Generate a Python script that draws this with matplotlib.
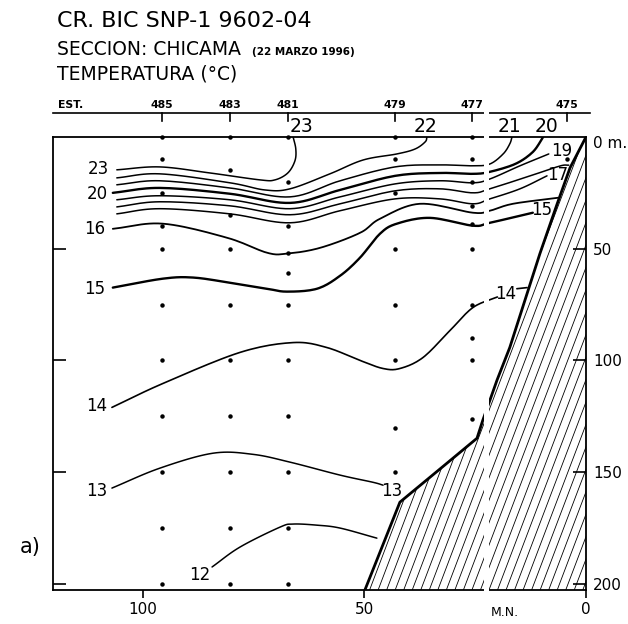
import matplotlib
matplotlib.use("Agg")
import matplotlib.pyplot as plt
import numpy as np
from matplotlib.patches import Polygon
from matplotlib.transforms import blended_transform_factory

plt.rcParams['font.family'] = ['DejaVu Sans']

# stations (distance from coast in nautical miles) and sampled depths (m)
stations = ['485', '483', '481', '479', '477', '475']
station_nm = [95.7, 80.4, 67.3, 43.1, 25.7, 4.3]
sample_depths = [
    [0, 10, 25, 40, 50, 75, 100, 125, 150, 175, 200],
    [0, 15, 35, 50, 75, 100, 125, 150, 175, 200],
    [0, 20, 40, 52, 61, 75, 100, 125, 150, 175, 200],
    [0, 10, 25, 50, 75, 100, 130, 150],
    [0, 10, 20, 31, 39, 50, 75, 90, 100, 126],
    [10],
]

# sea floor profile
shelf_nm = [0, 3.6, 6.5, 10.4, 13.3, 17.2, 20.1, 21.7, 23.3, 24.6, 31.4, 42.0, 49.9]
shelf_depth = [0, 13.8, 29.9, 52.2, 70.1, 94.2, 108.9, 117.9, 126.8, 134.8, 146.0, 163.4, 202.7]

# isotherms as (nm, depth) read from the section
t23 = [(105.9, 14.7), (96.2, 13.4), (84.9, 16.1), (73.6, 19.2), (70.2, 19.2),
       (67.3, 16.1), (65.7, 10.7), (65.5, 5.4), (66.1, 0)]
t22 = [(105.9, 18.3), (96.2, 16.5), (80.4, 20.5), (72.5, 23.7), (66.8, 23.2),
       (57.8, 16.5), (50.3, 10.3), (42.7, 7.6), (38.6, 5.4), (36.3, 2.2), (35.9, 0)]
t21 = [(105.9, 21.4), (96.2, 19.6), (80.4, 22.8), (66.8, 26.8), (55.5, 19.6),
       (43.1, 13.4), (33.0, 12.5), (25.5, 12.9), (21.7, 12.1), (18.7, 7.6),
       (17.2, 3.1), (16.7, 0)]
t20 = [(106.8, 25.0), (96.2, 22.8), (80.4, 25.4), (66.8, 29.5), (55.5, 23.7),
       (43.1, 17.4), (33.0, 16.1), (25.5, 16.5), (21.7, 15.6), (16.0, 12.1),
       (12.2, 7.1), (10.2, 1.8), (9.7, 0)]
t19 = [(105.9, 28.1), (96.2, 26.3), (80.4, 28.1), (66.8, 32.1), (55.5, 26.8),
       (43.1, 21.0), (33.0, 19.6), (25.5, 20.5), (21.7, 18.8), (14.9, 12.9), (8.4, 7.6)]
t18 = [(105.9, 31.3), (96.2, 29.0), (80.4, 30.8), (66.8, 34.8), (55.5, 29.9),
       (43.1, 24.1), (33.0, 23.2), (25.5, 25.0), (21.7, 23.2), (12.6, 17.4),
       (5.9, 13.0), (3.9, 12.6)]
t17 = [(105.9, 34.4), (96.2, 32.1), (80.4, 34.4), (66.8, 38.4), (55.5, 33.0),
       (43.1, 27.7), (33.0, 27.7), (25.5, 29.9), (21.7, 27.7), (14.9, 23.2), (8.8, 17.4)]
t16 = [(106.8, 41.1), (95.5, 38.8), (81.0, 45.1), (72.0, 51.8), (67.5, 52.2),
       (60.0, 49.6), (51.0, 42.9), (46.5, 36.6), (37.5, 29.9), (25.5, 33.9),
       (21.7, 33.0), (16.5, 29.9), (6.3, 27.2)]
t15 = [(106.8, 67.4), (95.5, 63.4), (88.7, 62.9), (80.4, 65.2), (72.0, 67.9),
       (67.5, 69.2), (60.7, 67.9), (55.5, 62.1), (51.0, 54.0), (46.5, 43.3),
       (42.7, 38.8), (35.2, 36.2), (25.5, 39.7), (21.7, 38.4), (12.0, 33.9)]
t14 = [(107.0, 121.0), (95.5, 110.3), (78.1, 96.4), (66.1, 92.0), (58.5, 94.2),
       (51.0, 100.0), (45.8, 103.6), (42.0, 103.6), (36.8, 98.7), (30.7, 86.6),
       (25.5, 76.3), (20.0, 71.6)]
t14_end = [(15.6, 67.9), (13.3, 67.4)]
t13 = [(107.0, 157.1), (96.2, 148.2), (84.2, 141.5), (75.2, 142.0), (66.8, 145.5),
       (55.5, 151.3), (48.1, 154.5), (45.8, 155.8)]
t12 = [(84.4, 192.4), (78.1, 183.5), (69.1, 174.6), (66.1, 173.2), (60.7, 173.7),
       (55.5, 175.0), (47.2, 179.5)]

depth_ticks = [50, 100, 150, 200]
dist_ticks = [100, 50, 0]


def smooth(pts, n=12):
    # Catmull-Rom through the read points, just for a hand-drawn look
    p = np.asarray(pts, float)
    if len(p) < 3:
        return p
    ext = np.vstack([2 * p[0] - p[1], p, 2 * p[-1] - p[-2]])
    t = np.linspace(0, 1, n, endpoint=False)[:, None]
    out = []
    for i in range(1, len(ext) - 2):
        p0, p1, p2, p3 = ext[i - 1:i + 3]
        out.append(0.5 * (2 * p1 + (-p0 + p2) * t
                          + (2 * p0 - 5 * p1 + 4 * p2 - p3) * t ** 2
                          + (-p0 + 3 * p1 - 3 * p2 + p3) * t ** 3))
    out.append(p[-1:])
    return np.vstack(out)


fig = plt.figure(figsize=(6.28, 6.24), dpi=100)
ax = fig.add_axes([0.0844, 0.0545, 0.8487, 0.726])
ax.set_xlim(120.3, 0)
ax.set_ylim(202.7, 0)
for s in ax.spines.values():
    s.set_linewidth(1.3)

# shelf with hatching
shelf_patch = Polygon(np.column_stack([shelf_nm + [0], shelf_depth + [202.7]]),
                      closed=True, facecolor='none', edgecolor='none')
ax.add_patch(shelf_patch)
for x0 in np.arange(-0.35, 1.02, 0.016):
    ln, = ax.plot([x0, x0 + 0.323], [0, 1], transform=ax.transAxes,
                  color='black', lw=0.6, zorder=1.5)
    ln.set_clip_path(shelf_patch)
ax.plot(shelf_nm, shelf_depth, color='black', lw=2.0, zorder=3)

# isotherms
for pts, lw in [(t23, 1.1), (t22, 1.1), (t21, 1.1), (t20, 1.7), (t19, 1.1),
                (t18, 1.1), (t17, 1.1), (t16, 1.3), (t15, 1.7), (t14, 1.2),
                (t14_end, 1.2), (t13, 1.1), (t12, 1.1)]:
    xy = smooth(pts)
    ax.plot(xy[:, 0], xy[:, 1], color='black', lw=lw, solid_capstyle='round', zorder=2)

# sample points
for x, dep in zip(station_nm, sample_depths):
    ax.plot([x] * len(dep), dep, 'o', ms=2.2, color='black', zorder=2.6, clip_on=False)

# contour labels
lab = dict(ha='center', va='center', fontsize=12, zorder=5)
for x, z, s in [(110.1, 14.3, '23'), (110.4, 25.4, '20'), (110.8, 41.1, '16'),
                (110.8, 67.9, '15'), (110.4, 120.5, '14'), (110.4, 158.5, '13'),
                (87.1, 196.0, '12'), (5.4, 6.3, '19'), (6.5, 17.0, '17'),
                (9.9, 32.6, '15'), (18.1, 70.1, '14'), (43.8, 158.5, '13')]:
    ax.text(x, z, s, **lab)

tr = blended_transform_factory(ax.transData, ax.transAxes)
for x, s in [(64.1, '23'), (36.3, '22'), (17.2, '21'), (9.0, '20')]:
    ax.text(x, 1.024, s, transform=tr, ha='center', va='center', fontsize=13.5, zorder=5)

# station strip on top
ax.plot([0, 1.007], [1.053, 1.053], transform=ax.transAxes, color='black',
        lw=1.2, clip_on=False)
for x, s in zip(station_nm, stations):
    ax.plot([x, x], [1.053, 1.036], transform=tr, color='black', lw=1.2, clip_on=False)
    ax.text(x, 1.064, s, transform=tr, ha='center', va='baseline',
            fontsize=7.8, fontweight='bold')
ax.text(0.009, 1.064, 'EST.', transform=ax.transAxes, ha='left', va='baseline',
        fontsize=7.8, fontweight='bold')

# axes ticks
ax.set_yticks(depth_ticks)
ax.set_yticklabels([str(d) for d in depth_ticks])
ax.tick_params(axis='y', direction='in', length=9.5, width=1.2, left=True,
               right=True, labelleft=False, labelright=True, labelsize=11, pad=5)
ax.set_xticks(dist_ticks)
ax.set_xticklabels([str(d) for d in dist_ticks])
ax.tick_params(axis='x', direction='out', length=6, width=1.2, labelsize=11, pad=3)
tr_y = blended_transform_factory(ax.transAxes, ax.transData)
ax.text(1.013, 2.7, '0 m.', transform=tr_y, ha='left', va='center', fontsize=11)
ax.text(18.3, -0.05, 'M.N.', transform=tr, ha='center', va='center', fontsize=9)

# the seam of the original drawing
ax.axvspan(21.9, 23.1, ymin=-0.035, ymax=1.058, facecolor='white',
           edgecolor='none', zorder=3.5, clip_on=False)

# header
fig.text(0.091, 0.9567, 'CR. BIC SNP-1 9602-04', fontsize=16, va='baseline')
fig.text(0.091, 0.9119, 'SECCION: CHICAMA', fontsize=13.5, va='baseline')
fig.text(0.401, 0.9119, '(22 MARZO 1996)', fontsize=7.5, fontweight='bold', va='baseline')
fig.text(0.091, 0.8718, 'TEMPERATURA (°C)', fontsize=13.5, va='baseline')
fig.text(0.032, 0.114, 'a)', fontsize=15, va='baseline')

fig.savefig('out.png', dpi=100)
